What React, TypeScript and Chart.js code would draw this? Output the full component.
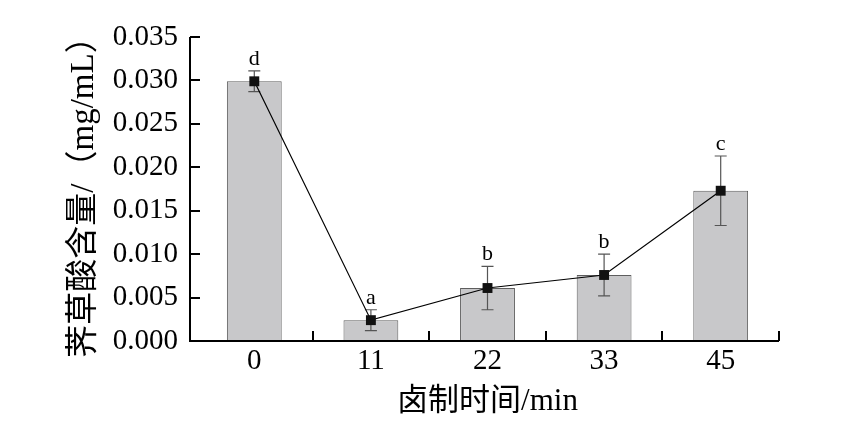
import React, { useEffect, useRef } from "react";
import { Chart, registerables } from "chart.js";

Chart.register(...registerables);

// ---- data ----
const times = ["0", "11", "22", "33", "45"];
const content = [0.0299, 0.0024, 0.0061, 0.0076, 0.0173];
const errors = [0.0012, 0.0012, 0.0025, 0.0024, 0.004];
const letters = ["d", "a", "b", "b", "c"];
const yMin = 0;
const yMax = 0.035;
const yStep = 0.005;
const xTitle = "卤制时间/min";
const yTitle = "荠草酸含量/（mg/mL）";

// ---- styles ----
const FONT = "'Liberation Serif', 'Noto Sans CJK SC', serif";
const AXIS_OFFSET = 6;
const TICK_LEN = 10;

const errorPlugin = {
  id: "errorBars",
  afterDatasetDraw(chart: any, args: any) {
    if (args.index !== 0) return;
    const { ctx } = chart;
    const y = chart.scales.y;
    const x = chart.scales.x;
    ctx.save();
    ctx.strokeStyle = "#555555";
    ctx.lineWidth = 1.2;
    ctx.fillStyle = "#000";
    ctx.font = `22px ${FONT}`;
    ctx.textAlign = "center";
    ctx.textBaseline = "alphabetic";
    content.forEach((v, i) => {
      const px = x.getPixelForValue(i);
      const top = y.getPixelForValue(v + errors[i]);
      const bot = y.getPixelForValue(v - errors[i]);
      const cap = 6;
      ctx.beginPath();
      ctx.moveTo(px, top);
      ctx.lineTo(px, bot);
      ctx.moveTo(px - cap, top);
      ctx.lineTo(px + cap, top);
      ctx.moveTo(px - cap, bot);
      ctx.lineTo(px + cap, bot);
      ctx.stroke();
      ctx.fillText(letters[i], px, top - 6);
    });
    ctx.restore();
  },
};

const axesPlugin = {
  id: "customAxes",
  afterDatasetsDraw(chart: any) {
    const { ctx, chartArea } = chart;
    const x = chart.scales.x;
    const y = chart.scales.y;
    const left = chartArea.left - AXIS_OFFSET;
    const bottom = y.getPixelForValue(yMin);
    const top = y.getPixelForValue(yMax);
    ctx.save();
    ctx.strokeStyle = "#000";
    ctx.lineWidth = 2;
    ctx.beginPath();
    ctx.moveTo(left, top);
    ctx.lineTo(left, bottom);
    ctx.lineTo(chartArea.right, bottom);
    ctx.stroke();
    // y ticks inward
    for (let v = yMin; v <= yMax + 1e-9; v += yStep) {
      const py = Math.round(y.getPixelForValue(v));
      ctx.beginPath();
      ctx.moveTo(left, py);
      ctx.lineTo(left + TICK_LEN, py);
      ctx.stroke();
    }
    // x ticks at category boundaries
    const w = x.getPixelForValue(1) - x.getPixelForValue(0);
    times.forEach((_, i) => {
      const px = Math.round(x.getPixelForValue(i) + w / 2);
      ctx.beginPath();
      ctx.moveTo(px, bottom);
      ctx.lineTo(px, bottom - TICK_LEN);
      ctx.stroke();
    });
    ctx.restore();
  },
};

export default function App() {
  const ref = useRef<HTMLCanvasElement>(null);
  useEffect(() => {
    document.body.style.margin = "0";
    const c = ref.current!;
    const chart = new Chart(c, {
      type: "bar",
      data: {
        labels: times,
        datasets: [
          {
            type: "bar",
            data: content,
            backgroundColor: "#c8c8ca",
            borderColor: "#5e5e5e",
            borderWidth: 1,
            categoryPercentage: 1,
            barPercentage: 0.47,
            order: 2,
          },
          {
            type: "line",
            data: content,
            borderColor: "#000",
            borderWidth: 1.2,
            backgroundColor: "#111",
            pointStyle: "rect",
            pointRadius: 7,
            pointBorderWidth: 0,
            pointBackgroundColor: "#111",
            tension: 0,
            order: 1,
          } as any,
        ],
      },
      options: {
        responsive: false,
        animation: false,
        layout: { padding: { left: 0, right: 70, top: 37, bottom: 0 } },
        plugins: {
          legend: { display: false },
          tooltip: { enabled: false },
        },
        scales: {
          x: {
            offset: true,
            grid: { display: false, drawTicks: false },
            border: { display: false },
            ticks: {
              color: "#000",
              font: { family: FONT, size: 29 },
              padding: 3,
              maxRotation: 0,
            },
            title: {
              display: true,
              text: xTitle,
              color: "#000",
              font: { family: FONT, size: 31 },
              padding: { top: 0, bottom: 20 },
            },
            afterFit: (s: any) => {
              s.height = 99;
            },
          },
          y: {
            min: yMin,
            max: yMax,
            grid: { display: false, drawTicks: false },
            border: { display: false },
            ticks: {
              stepSize: yStep,
              color: "#000",
              font: { family: FONT, size: 29 },
              padding: 18,
              callback: (v: any) => Number(v).toFixed(3),
            },
            title: {
              display: true,
              text: yTitle,
              color: "#000",
              font: { family: FONT, size: 33 },
              padding: { top: 65, bottom: 0 },
            },
            afterFit: (s: any) => {
              s.width = 196;
            },
          },
        },
      },
      plugins: [errorPlugin, axesPlugin],
    });
    return () => chart.destroy();
  }, []);
  return (
    <canvas
      ref={ref}
      width={849}
      height={440}
      style={{ display: "block", width: 849, height: 440 }}
    />
  );
}
